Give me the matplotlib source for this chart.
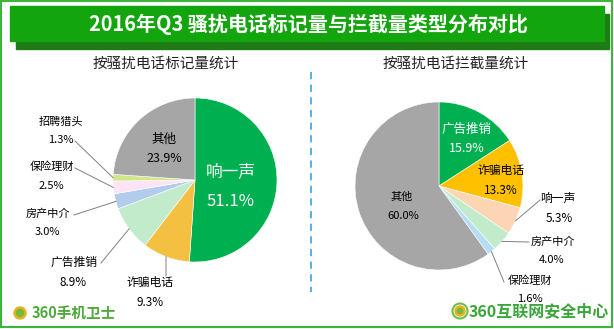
import numpy as np
import matplotlib
matplotlib.use('Agg')
import matplotlib.pyplot as plt
from matplotlib.patches import Rectangle, Circle

plt.rcParams['font.family'] = ['Noto Sans CJK SC', 'DejaVu Sans']

# DATA
title = '2016年Q3 骚扰电话标记量与拦截量类型分布对比'
left_title = '按骚扰电话标记量统计'
right_title = '按骚扰电话拦截量统计'

left_names = ['响一声', '诈骗电话', '广告推销', '房产中介', '保险理财', '招聘猎头', '其他']
left_values = [51.1, 9.3, 8.9, 3.0, 2.5, 1.3, 23.9]
left_colors = ['#00B050', '#F4C042', '#C2EBCB', '#B4CCEC', '#FCE4F6', '#D2E68A', '#A6A6A6']

right_names = ['广告推销', '诈骗电话', '响一声', '房产中介', '保险理财', '其他']
right_values = [15.9, 13.3, 5.3, 4.0, 1.6, 60.0]
right_colors = ['#00B050', '#FFC000', '#FCD5B4', '#C2EBCB', '#B4DEF4', '#A6A6A6']

W, H = 614, 329
fig = plt.figure(figsize=(W / 100, H / 100), dpi=100)

# label layout (pixels): name pos, pct pos, leader end (None = inside), colour, size
left_layout = [
    ((231, 172), (231, 202), None, 'white', 12),
    ((150, 282), (150, 303), (166, 276), 'black', 8.5),
    ((74, 262), (73, 283), (101, 263), 'black', 8.5),
    ((48, 214), (47, 232), (74, 215), 'black', 8),
    ((52, 167), (51, 186), (75, 168), 'black', 8),
    ((61, 122), (61, 140), (75, 141), 'black', 8),
    ((164, 139), (164, 159), None, 'black', 9),
]
right_layout = [
    ((467, 129), (467, 149), None, 'white', 9),
    ((501, 170), (501, 191), None, 'black', 8.5),
    ((558, 198), (559, 219), (540, 200), 'black', 8.5),
    ((553, 242), (552, 260), (529, 242), 'black', 8),
    ((530, 281), (530, 299), (504, 282), 'black', 8),
    ((402, 197), (403, 216), None, 'black', 8),
]


def draw_pie(cx, cy, r, values, colors):
    ax = fig.add_axes([(cx - r) / W, 1 - (cy + r) / H, 2 * r / W, 2 * r / H])
    wedges, _ = ax.pie(values, colors=colors, startangle=90, counterclock=False,
                       wedgeprops=dict(edgecolor='white', linewidth=0.4))
    ax.set_xlim(-1, 1)
    ax.set_ylim(-1, 1)
    ax.axis('off')
    return wedges


lw = draw_pie(195, 180, 82, left_values, left_colors)
rw = draw_pie(439, 186, 84, right_values, right_colors)

# overlay in pixel coordinates
ov = fig.add_axes([0, 0, 1, 1])
ov.set_xlim(0, W)
ov.set_ylim(H, 0)
ov.axis('off')
ov.patch.set_alpha(0)

# border and banner
ov.add_patch(Rectangle((1, 1), W - 3, H - 3, fill=False, edgecolor='#3DB53D', lw=1.5))
ov.add_patch(Rectangle((16, 14), 593, 35, color='#1E7B18'))
ov.add_patch(Rectangle((10, 6), 594, 35, color='#13A50E'))
ov.text(308, 24, title, color='white', fontsize=14.4, fontweight='bold',
        ha='center', va='center')

ov.text(166, 64, left_title, fontsize=10.5, ha='center', va='center', color='#222222')
ov.text(456, 64, right_title, fontsize=10.5, ha='center', va='center', color='#222222')

# dashed divider
ov.plot([310.5, 310.5], [72, 292], color='#45ABE0', lw=1.3, ls=(0, (4, 3)))


def label_pie(wedges, names, values, layout, cx, cy, r):
    for w, name, val, (npos, ppos, lend, col, fs) in zip(wedges, names, values, layout):
        ov.text(npos[0], npos[1], name, color=col, fontsize=fs, ha='center', va='center')
        ov.text(ppos[0], ppos[1], '%.1f%%' % val, color=col, fontsize=fs,
                ha='center', va='center')
        if lend is not None:
            m = np.deg2rad((w.theta1 + w.theta2) / 2)
            ex = cx + r * np.cos(m)
            ey = cy - r * np.sin(m)
            ov.plot([lend[0], ex], [lend[1], ey], color='#808080', lw=0.7)


label_pie(lw, left_names, left_values, left_layout, 195, 180, 82)
label_pie(rw, right_names, right_values, right_layout, 439, 186, 84)

# logos
ov.add_patch(Circle((20, 313), 6, color='#E2B322'))
ov.add_patch(Circle((20, 313), 3.5, color='#79B93A'))
ov.text(32, 313, '360手机卫士', color='#4FA83C', fontsize=10.5, fontweight='bold',
        ha='left', va='center')
ov.add_patch(Circle((460, 311), 7.5, fill=False, edgecolor='#6BBF4A', lw=1.5))
ov.add_patch(Circle((460, 311), 5, color='#E2B322'))
ov.add_patch(Circle((460, 311), 2.5, color='#79B93A'))
ov.text(469, 311, '360互联网安全中心', color='#3AA53A', fontsize=11.5, fontweight='bold',
        ha='left', va='center')

fig.savefig('out.png', dpi=100)
